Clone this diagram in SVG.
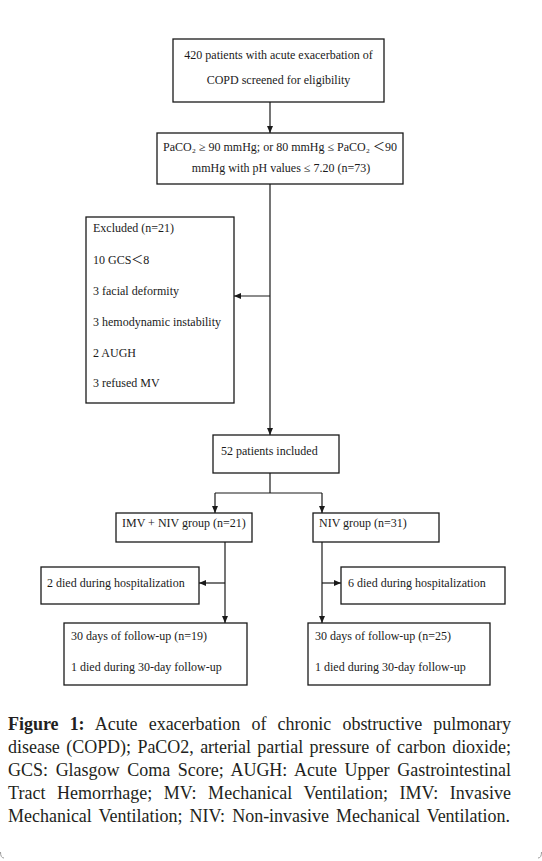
<svg xmlns="http://www.w3.org/2000/svg" width="542" height="861" viewBox="0 0 542 861">
  <defs>
    <marker id="ah" markerWidth="7" markerHeight="6" refX="7" refY="3" orient="auto" markerUnits="userSpaceOnUse">
      <path d="M0,0 L7,3 L0,6 z" fill="#1a1a1a"/>
    </marker>
    <style>
      .box { fill: #ffffff; stroke: #1a1a1a; stroke-width: 1.3; }
      .t { font-family: 'Liberation Serif', 'Noto Sans CJK SC', serif; font-size: 12px; fill: #1a1a1a; }
      .c { font-family: 'Liberation Serif', serif; font-size: 18px; fill: #231f20; }
      .ln { fill: none; stroke: #1a1a1a; stroke-width: 1.2; }
      .mid { text-anchor: middle; }
    </style>
  </defs>
  <rect x="0" y="0" width="542" height="861" fill="#ffffff"/>

  <g id="connectors">
    <line class="ln" x1="270" y1="102" x2="270" y2="133" marker-end="url(#ah)"/>
    <line class="ln" x1="270" y1="184" x2="270" y2="435" marker-end="url(#ah)"/>
    <line class="ln" x1="270" y1="296" x2="234" y2="296" marker-end="url(#ah)"/>
    <polyline class="ln" points="270,473 270,493"/>
    <line class="ln" x1="215" y1="493" x2="322" y2="493"/>
    <line class="ln" x1="215" y1="493" x2="215" y2="513" marker-end="url(#ah)"/>
    <line class="ln" x1="322" y1="493" x2="322" y2="513" marker-end="url(#ah)"/>
    <line class="ln" x1="225" y1="542" x2="225" y2="623" marker-end="url(#ah)"/>
    <line class="ln" x1="225" y1="583" x2="199" y2="583" marker-end="url(#ah)"/>
    <line class="ln" x1="322" y1="542" x2="322" y2="623" marker-end="url(#ah)"/>
    <line class="ln" x1="322" y1="583" x2="341" y2="583" marker-end="url(#ah)"/>
  </g>

  <g id="screened">
    <rect class="box" x="173" y="39" width="211" height="63"/>
    <text class="t mid" x="278.5" y="59">420 patients with acute exacerbation of</text>
    <text class="t mid" x="278.5" y="84">COPD screened for eligibility</text>
  </g>

  <g id="criteria">
    <rect class="box" x="157" y="133" width="246" height="51"/>
    <text class="t mid" x="280" y="151">PaCO₂ ≥ 90 mmHg; or 80 mmHg ≤ PaCO₂ ＜90</text>
    <text class="t mid" x="281" y="172">mmHg with pH values ≤ 7.20 (n=73)</text>
  </g>

  <g id="excluded">
    <rect class="box" x="86" y="217" width="148" height="186"/>
    <text class="t" x="93" y="232">Excluded (n=21)</text>
    <text class="t" x="93" y="264">10 GCS＜8</text>
    <text class="t" x="93" y="295">3 facial deformity</text>
    <text class="t" x="93" y="326">3 hemodynamic instability</text>
    <text class="t" x="93" y="357">2 AUGH</text>
    <text class="t" x="93" y="387">3 refused MV</text>
  </g>

  <g id="included">
    <rect class="box" x="213" y="435" width="126" height="38"/>
    <text class="t" x="221" y="455">52 patients included</text>
  </g>

  <g id="imv-group">
    <rect class="box" x="116" y="513" width="136" height="29"/>
    <text class="t" x="122" y="527">IMV + NIV group (n=21)</text>
  </g>

  <g id="niv-group">
    <rect class="box" x="313" y="513" width="126" height="29"/>
    <text class="t" x="319" y="527">NIV group (n=31)</text>
  </g>

  <g id="imv-died">
    <rect class="box" x="41" y="567" width="158" height="37"/>
    <text class="t" x="47" y="587">2 died during hospitalization</text>
  </g>

  <g id="niv-died">
    <rect class="box" x="341" y="567" width="164" height="37"/>
    <text class="t" x="348" y="587">6 died during hospitalization</text>
  </g>

  <g id="imv-followup">
    <rect class="box" x="64" y="623" width="183" height="62"/>
    <text class="t" x="71" y="640">30 days of follow-up (n=19)</text>
    <text class="t" x="71" y="671">1 died during 30-day follow-up</text>
  </g>

  <g id="niv-followup">
    <rect class="box" x="308" y="623" width="182" height="62"/>
    <text class="t" x="315" y="640">30 days of follow-up (n=25)</text>
    <text class="t" x="315" y="671">1 died during 30-day follow-up</text>
  </g>

  <g id="caption">
    <text class="c" x="8" y="730" word-spacing="6.7" textLength="503" lengthAdjust="spacing"><tspan font-weight="bold">Figure 1:</tspan> Acute exacerbation of chronic obstructive pulmonary</text>
    <text class="c" x="8" y="753" word-spacing="1.9" textLength="503" lengthAdjust="spacing">disease (COPD); PaCO2, arterial partial pressure of carbon dioxide;</text>
    <text class="c" x="8" y="776" word-spacing="3.2" textLength="503" lengthAdjust="spacing">GCS: Glasgow Coma Score; AUGH: Acute Upper Gastrointestinal</text>
    <text class="c" x="8" y="799" word-spacing="7.0" textLength="503" lengthAdjust="spacing">Tract Hemorrhage; MV: Mechanical Ventilation; IMV: Invasive</text>
    <text class="c" x="8" y="822" word-spacing="2.6" textLength="502" lengthAdjust="spacing">Mechanical Ventilation; NIV: Non-invasive Mechanical Ventilation.</text>
  </g>

  <g id="frame-corners" fill="none" stroke="#9a9a9a" stroke-width="1">
    <path d="M0.5,852 Q0.5,858 4,858"/>
    <path d="M541.5,852 Q541.5,858 538,858"/>
  </g>
</svg>
